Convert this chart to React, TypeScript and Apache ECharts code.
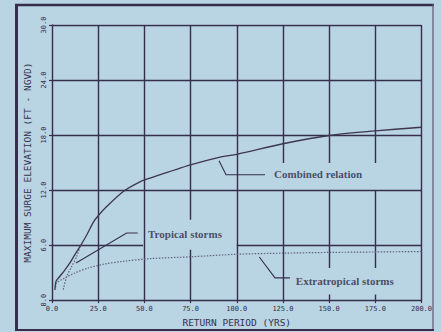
import React, { useEffect, useRef } from "react";
import * as echarts from "echarts";

// Return period (yrs) / surge elevation (ft) pairs
const combinedRelation: [number, number][] = [
  [1.6, 1.1], [2.2, 2.05], [4.3, 2.6], [7.0, 3.3], [9.7, 4.05], [12.4, 4.96],
  [15.2, 5.86], [18.8, 7.1], [22.4, 8.5], [25, 9.2], [29.6, 10.2], [38.6, 11.85],
  [47.6, 12.9], [53, 13.3], [75, 14.75], [91, 15.6], [100, 15.9], [125, 17.05],
  [150, 17.95], [175, 18.45], [200, 18.85],
];
const tropicalStorms: [number, number][] = [
  [6.1, 1.14], [8.0, 2.6], [10.7, 3.68], [13.4, 4.77], [15.2, 5.86],
];
const extratropicalStorms: [number, number][] = [
  [2, 1.4], [2.5, 1.87], [7.0, 2.42], [12.4, 2.96], [19.6, 3.5], [28.7, 3.94],
  [38.6, 4.23], [53, 4.52], [75, 4.72], [100, 5.0], [125, 5.12], [150, 5.2],
  [175, 5.25], [200, 5.3],
];

// Axis settings
const xMin = 0, xMax = 200, xStep = 25;
const yMin = 0, yMax = 30, yStep = 6;
const xAxisTitle = "RETURN PERIOD (YRS)";
const yAxisTitle = "MAXIMUM SURGE ELEVATION (FT - NGVD)";

// Grid rules as drawn on the original (with gaps around annotations)
const verticalRules: [number, number, number][] = [
  [25, 0, 30], [50, 0, 30], [75, 0, 5.5], [75, 8.75, 30], [100, 0, 30],
  [125, 0, 12], [125, 14.95, 30],
  [150, 0, 0.6], [150, 3.5, 12], [150, 14.95, 30],
  [175, 0, 0.6], [175, 3.5, 12], [175, 14.95, 30],
  [200, 0, 30],
];
const horizontalRules: [number, number, number][] = [
  [6, 0, 49.3], [6, 100, 200], [12, 0, 200], [18, 0, 200], [24, 0, 200], [30, 0, 200],
];

// Annotations: label text, anchor, leader polyline
const annotations = [
  { text: "Combined relation", at: [120.2, 13.75], leader: [[90.4, 15.2], [94.2, 13.67], [115.3, 13.67]] },
  { text: "Tropical storms", at: [52.0, 7.22], leader: [[13.0, 4.05], [40.4, 7.32], [46.4, 7.32]] },
  { text: "Extratropical storms", at: [132.0, 2.05], leader: [[112.2, 4.7], [120.7, 2.42], [128.8, 2.42]] },
];

const INK = "#372e4d";
const TEXT = "#35314f";
const BG = "#b9d4e2";

export default function App() {
  const ref = useRef<HTMLDivElement>(null);
  useEffect(() => {
    if (!ref.current) return;
    const chart = echarts.init(ref.current, null, { renderer: "svg" });
    const ruleData = [
      ...verticalRules.map(([x, a, b]) => ({ coords: [[x, a], [x, b]] })),
      ...horizontalRules.map(([y, a, b]) => ({ coords: [[a, y], [b, y]] })),
    ];
    const monoFont = "DejaVu Sans Mono";
    chart.setOption({
      animation: false,
      backgroundColor: BG,
      grid: { left: 52, right: 19.5, top: 25, bottom: 31.5 },
      xAxis: {
        type: "value", min: xMin, max: xMax, interval: xStep,
        name: xAxisTitle, nameLocation: "middle", nameGap: 15,
        nameTextStyle: { fontFamily: monoFont, fontSize: 9.5, color: TEXT },
        axisLine: { show: true, lineStyle: { color: INK, width: 1.4 } },
        axisTick: { show: true, length: 3, lineStyle: { color: INK, width: 1.2 } },
        axisLabel: { formatter: (v: number) => v.toFixed(1), fontFamily: monoFont, fontSize: 7, color: TEXT, margin: 5 },
        splitLine: { show: false },
      },
      yAxis: {
        type: "value", min: yMin, max: yMax, interval: yStep,
        name: yAxisTitle, nameLocation: "middle", nameGap: 16, nameRotate: 90,
        nameTextStyle: { fontFamily: monoFont, fontSize: 9.5, color: TEXT },
        axisLine: { show: true, lineStyle: { color: INK, width: 1.4 } },
        axisTick: { show: true, length: 3, lineStyle: { color: INK, width: 1.2 } },
        axisLabel: { formatter: (v: number) => v.toFixed(1), rotate: 90, fontFamily: monoFont, fontSize: 7, color: TEXT, margin: 5 },
        splitLine: { show: false },
      },
      series: [
        {
          type: "lines", coordinateSystem: "cartesian2d", silent: true, z: 1,
          lineStyle: { color: INK, width: 1.4, opacity: 1 },
          data: ruleData,
        },
        {
          type: "lines", coordinateSystem: "cartesian2d", polyline: true, silent: true, z: 2,
          lineStyle: { color: INK, width: 1.1, opacity: 1 },
          data: annotations.map((a) => ({ coords: a.leader })),
        },
        {
          name: "Combined relation", type: "line", data: combinedRelation, smooth: 0.3,
          showSymbol: false, z: 4, lineStyle: { color: "#3f3650", width: 1.3 },
        },
        {
          name: "Tropical storms", type: "line", data: tropicalStorms, smooth: 0.3,
          showSymbol: false, z: 3, lineStyle: { color: "#625f7c", width: 1.2, type: [1.5, 1.5] },
        },
        {
          name: "Extratropical storms", type: "line", data: extratropicalStorms, smooth: 0.3,
          showSymbol: false, z: 3, lineStyle: { color: "#646282", width: 1.2, type: [1.5, 1.5] },
        },
        {
          type: "scatter", symbolSize: 0, silent: true, z: 5,
          data: annotations.map((a) => ({ value: a.at, name: a.text })),
          label: {
            show: true, position: "right", distance: 0,
            formatter: (p: any) => p.name,
            fontFamily: "Liberation Serif", fontWeight: "bold", fontSize: 11, color: "#2c2946",
          },
        },
      ],
      graphic: [
        { type: "line", shape: { x1: 16.5, y1: 4, x2: 16.5, y2: 331 }, style: { stroke: INK, lineWidth: 3 } },
        { type: "line", shape: { x1: 15, y1: 5, x2: 434, y2: 5 }, style: { stroke: INK, lineWidth: 2.5 } },
        { type: "line", shape: { x1: 433, y1: 4, x2: 433, y2: 331 }, style: { stroke: "#5d5870", lineWidth: 1.2 } },
        { type: "line", shape: { x1: 15, y1: 330, x2: 434, y2: 330 }, style: { stroke: INK, lineWidth: 2 } },
      ],
    });
    return () => chart.dispose();
  }, []);
  return <div ref={ref} style={{ position: "fixed", left: 0, top: 0, width: 441, height: 332 }} />;
}
